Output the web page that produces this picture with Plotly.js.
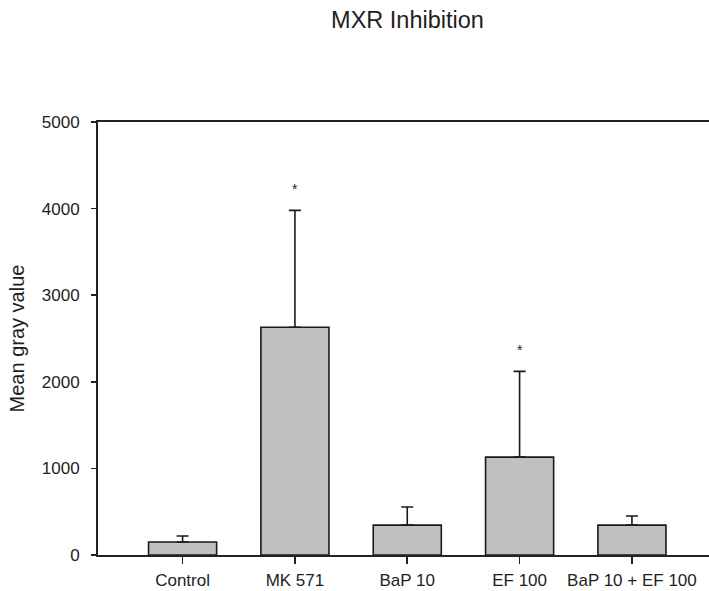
<!DOCTYPE html>
<html>
<head>
<meta charset="utf-8">
<script src="https://cdn.plot.ly/plotly-3.0.1.min.js"></script>
<style>
  html, body { margin: 0; padding: 0; background: #fff; }
  #chart { width: 709px; height: 591px; }
</style>
</head>
<body>
<div id="chart"></div>
<script>
const categories = ["Control", "MK 571", "BaP 10", "EF 100", "BaP 10 + EF 100"];
const meanValues = [150, 2630, 345, 1130, 345];
const errorPlus = [70, 1350, 210, 990, 105];
const significant = [false, true, false, true, false];
const yTicks = [0, 1000, 2000, 3000, 4000, 5000];

const FONT = "Liberation Sans, Arial, sans-serif";
const TXT = "#1e1e1e";

const trace = {
  type: "bar",
  x: categories,
  y: meanValues,
  marker: { color: "#c0c0c0", line: { color: "#1a1a1a", width: 1.6 } },
  error_y: {
    type: "data",
    symmetric: false,
    array: errorPlus,
    arrayminus: errorPlus.map(() => 0),
    color: "#1a1a1a",
    thickness: 1.6,
    width: 6
  },
  hoverinfo: "none"
};

const annotations = categories.map((c, i) => significant[i] ? {
  x: c, y: meanValues[i] + errorPlus[i], xref: "x", yref: "y",
  text: "*", showarrow: false, yanchor: "bottom", yshift: 11,
  font: { family: FONT, size: 14, color: TXT }
} : null).filter(a => a);

const layout = {
  width: 709, height: 591,
  margin: { l: 98, r: 0, t: 122, b: 36, pad: 0 },
  paper_bgcolor: "#ffffff",
  plot_bgcolor: "#ffffff",
  showlegend: false,
  bargap: 0.394,
  font: { family: FONT, color: TXT, size: 17 },
  title: {
    text: "MXR Inhibition",
    font: { family: FONT, size: 23.5, color: TXT },
    xref: "container", x: 407.5 / 709, xanchor: "center",
    yref: "container", y: 1 - 20 / 591, yanchor: "middle"
  },
  xaxis: {
    type: "category",
    range: [-0.753, 4.686],
    showline: true, linecolor: "#222222", linewidth: 2,
    mirror: true,
    ticks: "outside", ticklen: 7, tickwidth: 1.6, tickcolor: "#222222",
    ticklabelstandoff: 2,
    showgrid: false, zeroline: false,
    tickfont: { family: FONT, size: 17, color: TXT },
    automargin: false,
    fixedrange: true
  },
  yaxis: {
    range: [0, 5000],
    tickvals: yTicks,
    ticktext: yTicks.map(String),
    showline: true, linecolor: "#222222", linewidth: 2,
    ticks: "outside", ticklen: 5, tickwidth: 1.6, tickcolor: "#222222",
    ticklabelstandoff: 8,
    showgrid: false, zeroline: false,
    tickfont: { family: FONT, size: 17, color: TXT },
    title: { text: "Mean gray value", font: { family: FONT, size: 20, color: TXT }, standoff: 12 },
    automargin: false,
    fixedrange: true
  },
  annotations: annotations
};

Plotly.newPlot("chart", [trace], layout, { displayModeBar: false, staticPlot: true });
</script>
</body>
</html>
